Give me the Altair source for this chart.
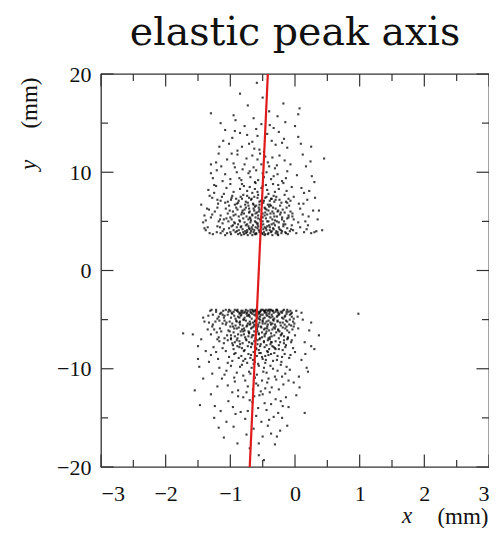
import altair as alt
import pandas as pd

# ---------------- data ----------------
upper_points = [
    (-0.62,3.7),(-0.41,3.8),(-0.88,3.7),(-0.15,3.9),(-1.05,3.8),(-0.53,4.0),(-0.27,3.7),(-0.74,3.9),(0.02,3.8),(-1.21,3.9),
    (-0.47,3.6),(-0.95,4.1),(-0.33,4.2),(-0.69,3.8),(-0.08,4.0),(-1.32,3.8),(-0.58,4.3),(-0.21,3.8),(-0.81,4.2),(0.14,3.9),
    (-0.44,4.1),(-1.12,4.0),(-0.66,3.6),(-0.37,3.9),(-0.99,3.7),(-0.12,4.3),(-0.77,4.0),(-0.51,3.8),(0.25,3.8),(-1.38,4.1),
    (-0.29,4.0),(-0.85,3.8),(-0.57,4.5),(-0.03,4.1),(-1.16,4.4),(-0.71,4.3),(-0.39,4.4),(-0.92,3.9),(-0.18,4.5),(-0.63,4.1),
    (-1.02,4.3),(-0.46,3.7),(0.08,4.4),(-0.79,3.7),(-0.24,4.2),(-1.27,3.7),(-0.55,3.9),(-0.35,3.6),(-0.9,4.4),(0.33,4.0),
    (-0.67,4.4),(-0.11,3.7),(-1.08,3.6),(-0.49,4.2),(-0.83,4.5),(-0.31,4.6),(-0.6,3.7),(-0.96,4.6),(-0.2,4.0),(-0.73,3.6),
    (-1.2,4.5),(-0.43,4.5),(0.18,4.2),(-0.87,4.1),(-0.05,4.6),(-0.65,4.6),(-1.35,4.4),(-0.26,3.6),(-0.52,4.4),(-0.76,4.6),
    (-0.58,4.8),(-0.31,5.1),(-0.94,4.9),(-0.12,5.3),(-1.18,5.0),(-0.47,5.6),(-0.72,5.2),(0.05,4.9),(-1.3,5.4),(-0.36,4.7),
    (-0.83,5.7),(-0.22,5.9),(-0.61,5.4),(-1.04,5.8),(-0.41,6.1),(0.21,5.5),(-0.69,4.9),(-0.15,4.7),(-0.98,5.2),(-0.53,5.0),
    (-1.24,6.0),(-0.28,5.5),(-0.78,6.2),(-0.07,6.0),(-0.5,5.8),(-1.12,4.8),(-0.87,5.5),(-0.34,6.4),(0.12,5.7),(-0.64,6.3),
    (-1.38,5.1),(-0.45,5.3),(-0.19,6.2),(-0.91,6.4),(-0.56,6.0),(-0.74,4.7),(-0.02,5.2),(-1.07,6.3),(-0.38,5.8),(-0.66,5.7),
    (-0.25,4.9),(-0.85,5.0),(0.28,6.1),(-1.15,5.6),(-0.49,4.7),(-0.62,6.5),(-0.1,5.6),(-0.96,6.0),(-0.3,6.3),(-0.71,5.9),
    (-1.28,5.7),(-0.43,5.0),(-0.8,5.3),(-0.17,5.0),(-0.55,6.2),(-1.0,5.4),(0.08,6.3),(-0.35,5.2),(-0.68,5.1),(-0.89,6.2),
    (-0.23,5.7),(-1.2,6.4),(-0.52,5.5),(-0.76,6.4),(-0.04,5.5),(-0.4,6.5),(-1.1,5.2),(-0.6,4.9),(-0.27,6.0),(-0.93,4.8),
    (0.16,5.0),(-0.46,6.3),(-0.82,5.9),(-0.13,6.4),(-1.33,6.2),(-0.57,5.3),(-0.7,6.0),(-0.33,4.8),(-1.03,5.0),(-0.2,5.4),
    (-0.55,6.7),(-0.32,7.0),(-0.88,6.9),(-0.1,7.3),(-1.15,7.1),(-0.63,7.5),(-0.41,7.8),(-0.97,7.6),(0.06,6.8),(-0.74,8.1),
    (-0.25,8.3),(-1.25,7.9),(-0.5,8.6),(-0.82,8.8),(-0.16,7.7),(-0.68,7.2),(-1.06,8.4),(-0.37,6.6),(0.14,7.9),(-0.58,8.0),
    (-0.91,7.3),(-0.29,7.5),(-1.19,6.8),(-0.46,7.4),(-0.77,6.7),(-0.05,8.5),(-0.61,8.9),(-1.02,6.6),(-0.34,8.8),(-0.85,8.3),
    (-0.21,6.9),(-0.53,7.1),(-1.28,7.4),(-0.7,8.5),(-0.43,8.2),(0.19,7.2),(-0.95,8.0),(-0.13,8.1),(-0.6,6.6),(-1.1,7.8),
    (-0.39,7.1),(-0.8,7.7),(-0.26,8.7),(-0.66,7.9),(-1.0,8.8),(-0.49,6.9),(-0.02,7.5),(-0.87,7.1),(-0.31,8.0),(-1.22,8.6),
    (-0.57,7.7),(-0.73,6.9),(-0.18,8.9),(-0.45,8.7),(-0.93,6.7),(-0.09,6.6),(-0.62,8.3),(-1.13,7.5),(-0.36,7.3),(-0.79,8.6),
    (-0.52,8.4),(-0.24,7.2),(-0.99,7.2),(0.1,8.4),(-0.65,6.8),(-1.34,8.2),(-0.42,6.7),(-0.84,7.5),(-0.14,7.0),(-0.71,7.4),
    (-0.57,9.2),(-0.33,9.6),(-0.86,9.4),(-0.12,10.1),(-1.08,9.8),(-0.64,10.5),(-0.42,11.0),(-0.95,10.9),(-0.2,9.1),(-0.75,11.4),
    (-0.5,9.9),(-1.14,10.6),(-0.28,10.7),(-0.69,9.5),(0.03,9.7),(-0.89,11.8),(-0.46,11.6),(-0.6,10.2),(-1.0,9.3),(-0.37,9.3),
    (-0.81,10.3),(-0.16,11.2),(-0.54,11.9),(-0.72,9.9),(-1.05,11.3),(-0.31,10.4),(-0.62,9.0),(-0.9,10.0),(-0.07,10.8),(-0.44,10.0),
    (-0.78,10.8),(-0.24,11.7),(-0.58,11.3),(-1.12,9.1),(-0.35,11.5),(-0.66,11.7),(-0.98,11.9),(-0.48,9.5),(-0.14,9.4),(-0.83,9.2),
    (-0.4,10.6),(-0.7,10.1),(-0.52,10.8),(-0.27,9.8),(-0.93,10.5),
    (-0.55,12.3),(-0.3,12.8),(-0.82,12.6),(-0.17,13.4),(-0.66,13.1),(-0.43,13.9),(-0.97,13.5),(-0.6,14.4),(-0.25,14.1),(-0.78,14.7),
    (-0.48,12.1),(-0.89,12.2),(-0.36,13.2),(-0.71,12.9),(-0.12,12.5),(-0.58,13.7),(-0.93,14.2),(-0.39,14.8),(-0.2,13.0),(-0.74,13.8),
    (-0.52,14.9),(-1.02,12.9),(-0.63,12.4),(-0.33,14.5),(-0.85,14.0),
    (-0.59,19.1),(-0.85,18.0),(-1.3,16.0),(-0.18,17.0),(0.07,16.5),(-0.64,15.5),(-0.4,16.2),(-0.92,15.3),(-0.5,17.6),(-0.27,15.7),(-0.73,16.8),
    (0.45,11.4),(0.37,6.1),(-1.4,4.3),(0.3,9.0),(-1.45,6.7),(0.42,4.1),(-1.3,10.8),(0.25,12.6),
]

upper_core = [
    (-0.6,3.8),(-0.36,4.0),(-0.8,3.9),(-0.22,4.1),(-1.0,3.9),(-0.5,3.7),(-0.7,4.2),(-0.3,3.8),(-0.9,4.0),(-0.45,4.3),
    (-0.14,3.8),(-1.1,4.2),(-0.64,3.9),(-0.4,4.6),(-0.84,4.4),(-0.06,4.2),(-0.56,4.1),(-0.76,3.8),(-0.25,4.4),(-0.98,4.5),
    (-0.48,3.9),(-0.68,4.0),(-0.34,4.3),(-1.15,3.8),(-0.58,4.7),(-0.88,4.7),(-0.18,4.7),(-0.42,3.7),(-0.72,4.5),(-0.52,4.6),
    (-0.62,5.0),(-0.38,5.4),(-0.86,5.1),(-0.2,5.2),(-1.06,5.3),(-0.54,5.2),(-0.75,5.5),(-0.28,5.0),(-0.95,5.6),(-0.46,5.9),
    (-0.1,5.4),(-1.16,5.2),(-0.66,5.6),(-0.43,5.7),(-0.81,6.1),(-0.04,5.8),(-0.59,5.9),(-0.78,4.9),(-0.32,5.5),(-1.01,6.1),
    (-0.5,5.4),(-0.7,5.4),(-0.26,6.1),(-0.92,5.7),(-0.56,6.4),(-0.84,6.5),(-0.16,5.9),(-0.44,6.2),(-0.72,6.6),(-0.35,6.0),
    (-0.63,6.1),(-0.39,6.7),(-0.9,6.8),(-0.23,6.6),(-1.08,6.9),(-0.51,6.8),(-0.76,7.0),(-0.3,7.2),(-0.98,7.4),(-0.48,7.1),
    (-0.12,6.9),(-1.2,7.2),(-0.67,7.3),(-0.44,7.5),(-0.82,7.3),(-0.07,7.1),(-0.58,7.4),(-0.74,7.6),(-0.33,7.6),(-1.04,7.0),
    (-0.54,4.0),(-0.47,4.4),(-0.66,4.2),(-0.39,4.1),(-0.74,4.1),(-0.27,3.9),(-0.83,3.6),(-0.61,4.4),(-0.5,5.0),(-0.57,5.6),
    (-0.41,5.0),(-0.69,5.3),(-0.33,5.8),(-0.79,5.8),(-0.61,5.8),(-0.47,6.4),(-0.64,6.7),(-0.37,7.3),(-0.55,7.0),(-0.71,6.3),
]

upper_edge = [
    (-1.32,7.6),(0.22,8.1),(-1.27,9.4),(0.31,7.4),(-1.21,10.2),(0.17,10.6),(-1.18,11.9),(0.12,11.8),(-1.36,6.3),(0.35,5.2),
    (-1.11,13.2),(0.05,13.6),(-1.25,8.7),(0.26,9.6),(-1.4,5.6),(0.2,4.6),(-1.17,12.6),(0.0,14.7),(-1.08,14.3),(0.13,6.8),
    (-1.3,9.9),(0.24,11.1),(-1.22,11.0),(0.09,12.9),(-1.42,4.9),(0.3,3.9),(-0.95,15.8),(-0.15,15.1),(-1.15,15.0),(0.05,15.9),
]

lower_points = [
    (-0.62,-4.1),(-0.41,-4.0),(-0.88,-4.2),(-0.19,-4.1),(-1.07,-4.0),(-0.55,-4.3),(-0.3,-4.2),(-0.76,-4.0),(-0.05,-4.3),(-1.22,-4.2),
    (-0.48,-4.1),(-0.97,-4.4),(-0.36,-4.5),(-0.69,-4.2),(-0.12,-4.0),(-1.31,-4.1),(-0.58,-4.6),(-0.24,-4.4),(-0.83,-4.5),(0.02,-4.1),
    (-0.44,-4.3),(-1.14,-4.3),(-0.66,-4.0),(-0.39,-4.2),(-1.0,-4.1),(-0.15,-4.6),(-0.79,-4.3),(-0.52,-4.0),(-0.28,-4.7),(-1.27,-4.5),
    (-0.6,-4.4),(-0.9,-4.1),(-0.47,-4.8),(-0.08,-4.5),(-1.18,-4.7),(-0.72,-4.6),(-0.34,-4.1),(-0.94,-4.6),(-0.2,-4.8),(-0.64,-4.2),
    (-1.04,-4.5),(-0.45,-4.0),(0.04,-4.7),(-0.81,-4.1),(-0.26,-4.3),(-1.29,-4.0),(-0.57,-4.2),(-0.37,-4.0),(-0.86,-4.8),(-0.1,-4.2),
    (-0.7,-4.7),(-0.17,-4.0),(-1.11,-4.1),(-0.5,-4.5),(-0.85,-4.3),(-0.32,-4.9),(-0.61,-4.0),(-0.99,-4.8),(-0.22,-4.2),(-0.75,-4.4),
    (-1.2,-4.9),(-0.43,-4.6),(-0.02,-4.9),(-0.89,-4.0),(-0.54,-4.7),(-0.67,-4.9),(-1.34,-4.6),(-0.29,-4.0),(-0.53,-4.1),(-0.78,-4.8),
    (-0.4,-4.4),(-0.95,-4.2),(-0.13,-4.4),(-0.63,-4.5),(-1.09,-4.6),(-0.35,-4.7),(-0.73,-4.1),(-0.27,-4.6),(-0.56,-4.9),(-0.92,-4.9),
    (-0.46,-4.2),(-1.16,-4.4),(-0.07,-4.1),(-0.68,-4.3),(-0.38,-4.8),(-0.84,-4.6),(-0.59,-4.0),(-0.18,-4.9),(-1.02,-4.0),(-0.49,-4.9),
    (-0.6,-5.1),(-0.38,-5.3),(-0.9,-5.2),(-0.16,-5.5),(-1.12,-5.4),(-0.52,-5.8),(-0.74,-5.6),(-0.03,-5.2),(-1.28,-5.7),(-0.33,-5.1),
    (-0.82,-6.0),(-0.24,-6.2),(-0.63,-5.5),(-1.03,-6.1),(-0.45,-6.4),(0.05,-5.9),(-0.7,-5.2),(-0.14,-5.1),(-0.97,-5.4),(-0.55,-5.3),
    (-1.21,-6.3),(-0.3,-5.7),(-0.79,-6.5),(-0.09,-6.3),(-0.48,-6.0),(-1.09,-5.1),(-0.87,-5.8),(-0.36,-6.7),(0.0,-6.6),(-0.66,-6.6),
    (-1.33,-5.3),(-0.42,-5.5),(-0.21,-6.5),(-0.93,-6.7),(-0.58,-6.2),(-0.76,-5.1),(-0.06,-5.6),(-1.05,-6.6),(-0.4,-6.1),(-0.68,-5.9),
    (-0.27,-5.2),(-0.86,-5.3),(-0.11,-6.8),(-1.16,-5.9),(-0.5,-5.1),(-0.61,-6.9),(-0.19,-5.8),(-0.95,-6.3),(-0.32,-6.6),(-0.72,-6.2),
    (-1.25,-6.0),(-0.44,-5.2),(-0.81,-5.6),(-0.23,-5.3),(-0.56,-6.5),(-1.0,-5.7),(-0.04,-6.0),(-0.35,-5.4),(-0.65,-5.3),(-0.88,-6.5),
    (-0.26,-6.0),(-1.18,-6.8),(-0.53,-5.7),(-0.77,-6.8),(-0.13,-5.7),(-0.41,-6.9),(-1.07,-5.5),(-0.62,-5.1),(-0.29,-6.3),(-0.91,-5.1),
    (-0.01,-5.4),(-0.47,-6.7),(-0.84,-6.2),(-0.17,-6.7),(-1.3,-6.5),(-0.57,-5.5),(-0.71,-6.3),(-0.34,-5.0),(-1.01,-5.2),(-0.22,-5.6),
    (-0.59,-6.0),(-0.8,-5.0),(-0.43,-5.9),(-0.99,-6.9),(-0.12,-6.1),(-0.67,-6.8),(-0.37,-6.4),(-1.14,-6.2),(-0.51,-6.3),(-0.85,-5.5),
    (-0.25,-6.9),(-0.64,-5.7),(-0.46,-5.4),(-0.94,-5.9),(-0.08,-5.0),(-0.73,-5.4),(-1.23,-5.2),(-0.31,-5.9),(-0.54,-6.9),(-0.78,-6.1),
    (-0.58,-7.1),(-0.36,-7.3),(-0.86,-7.2),(-0.14,-7.6),(-1.1,-7.4),(-0.6,-7.9),(-0.43,-8.2),(-0.95,-8.0),(-0.05,-7.1),(-0.72,-8.5),
    (-0.27,-8.7),(-1.22,-8.3),(-0.5,-9.0),(-0.8,-9.2),(-0.19,-8.1),(-0.66,-7.5),(-1.02,-8.8),(-0.39,-7.0),(0.0,-8.3),(-0.55,-8.4),
    (-0.89,-7.7),(-0.31,-7.9),(-1.17,-7.2),(-0.47,-7.8),(-0.75,-7.1),(-0.09,-8.9),(-0.62,-9.3),(-0.99,-7.0),(-0.34,-9.2),(-0.83,-8.7),
    (-0.23,-7.3),(-0.53,-7.5),(-1.26,-7.8),(-0.69,-8.9),(-0.41,-8.6),(-0.92,-8.4),(-0.16,-8.5),(-0.61,-7.0),(-1.07,-8.2),(-0.38,-7.5),
    (-0.78,-8.1),(-0.28,-9.1),(-0.64,-8.3),(-0.97,-9.2),(-0.48,-7.3),(-0.03,-7.9),(-0.85,-7.5),(-0.32,-8.4),(-1.19,-9.0),(-0.56,-8.1),
    (-0.71,-7.3),(-0.21,-9.3),(-0.45,-9.1),(-0.9,-7.1),(-0.12,-7.0),(-0.59,-8.7),(-1.12,-7.9),(-0.35,-7.7),(-0.77,-9.0),(-0.51,-8.8),
    (-0.25,-7.6),(-0.96,-7.6),(-0.07,-8.6),(-0.63,-7.2),(-1.3,-8.6),(-0.42,-7.1),(-0.82,-7.9),(-0.17,-7.4),(-0.68,-7.8),(-0.46,-9.4),
    (-1.04,-9.4),(-0.3,-8.0),(-0.74,-9.4),(-0.54,-7.7),(-0.87,-8.9),(-0.2,-8.8),(-0.65,-9.1),(-0.4,-8.0),(-0.93,-7.3),(-0.57,-9.5),
    (-0.56,-9.7),(-0.34,-10.0),(-0.85,-9.8),(-0.15,-10.5),(-1.06,-10.2),(-0.62,-10.9),(-0.43,-11.4),(-0.93,-11.3),(-0.22,-9.6),(-0.73,-11.8),
    (-0.49,-10.3),(-1.13,-11.0),(-0.29,-11.1),(-0.67,-9.9),(-0.08,-10.1),(-0.88,-12.2),(-0.46,-12.0),(-0.59,-10.6),(-0.99,-9.7),(-0.38,-9.7),
    (-0.8,-10.7),(-0.18,-11.6),(-0.53,-12.3),(-0.71,-10.3),(-1.04,-11.7),(-0.31,-10.8),(-0.64,-9.5),(-0.9,-10.4),(-0.1,-11.2),(-0.44,-10.4),
    (-0.77,-11.2),(-0.25,-12.1),(-0.57,-11.7),(-1.17,-9.9),(-0.36,-11.9),(-0.65,-12.1),(-0.97,-12.4),(-0.48,-9.9),(-0.13,-9.8),(-0.82,-9.6),
    (-0.41,-11.0),(-0.69,-10.5),(-0.51,-11.2),(-0.27,-10.2),(-0.94,-10.9),(-0.6,-11.5),(-0.2,-10.8),(-0.75,-12.4),(-1.09,-10.6),(-0.39,-12.4),
    (-0.55,-12.7),(-0.3,-13.1),(-0.8,-12.9),(-0.19,-13.8),(-0.66,-13.4),(-0.44,-14.2),(-0.96,-13.9),(-0.6,-14.8),(-0.26,-14.5),(-0.77,-15.1),
    (-0.5,-12.6),(-0.88,-12.8),(-0.37,-13.6),(-0.7,-13.2),(-0.14,-12.9),(-0.57,-14.0),(-0.92,-14.6),(-0.4,-15.2),(-0.22,-13.3),(-0.73,-14.3),
    (-0.52,-15.4),(-1.03,-13.3),(-0.63,-12.8),(-0.33,-14.9),(-0.84,-14.4),(-0.47,-13.5),
    (-0.31,-17.7),(-0.56,-17.6),(-0.89,-17.6),(-0.64,-16.1),(-0.42,-15.8),(-0.75,-16.7),(-0.23,-16.3),(-0.95,-15.9),(-0.5,-16.9),
    (-0.56,-18.8),(-0.48,-19.3),(-0.37,-16.6),(-0.7,-18.1),(-1.1,-17.0),
    (-1.73,-6.4),(-1.58,-6.5),(-1.55,-12.2),(-1.47,-13.7),(0.37,-6.6),(0.25,-5.3),(0.18,-9.9),(0.07,-11.9),(0.98,-4.4),
    (-1.5,-9.0),(0.3,-8.0),(-1.42,-4.8),(0.15,-14.5),(-1.25,-15.0),
]

lower_core = [
    (-0.6,-4.2),(-0.35,-4.1),(-0.82,-4.3),(-0.2,-4.3),(-1.03,-4.2),(-0.5,-4.0),(-0.71,-4.5),(-0.28,-4.0),(-0.93,-4.0),(-0.44,-4.5),
    (-0.13,-4.2),(-1.12,-4.5),(-0.65,-4.1),(-0.4,-4.7),(-0.86,-4.4),(-0.06,-4.4),(-0.56,-4.4),(-0.77,-4.2),(-0.25,-4.5),(-0.98,-4.3),
    (-0.47,-4.1),(-0.69,-4.0),(-0.33,-4.3),(-1.22,-4.0),(-0.58,-4.8),(-0.88,-4.7),(-0.16,-4.7),(-0.42,-4.1),(-0.74,-4.6),(-0.53,-4.5),
    (-0.62,-5.2),(-0.37,-5.5),(-0.85,-5.2),(-0.19,-5.3),(-1.06,-5.3),(-0.54,-5.0),(-0.75,-5.7),(-0.27,-5.1),(-0.96,-5.7),(-0.46,-5.9),
    (-0.09,-5.5),(-1.17,-5.1),(-0.66,-5.8),(-0.43,-5.7),(-0.8,-6.2),(-0.02,-5.7),(-0.59,-5.9),(-0.79,-5.0),(-0.31,-5.5),(-1.01,-6.2),
    (-0.5,-5.4),(-0.7,-5.5),(-0.26,-6.1),(-0.92,-5.6),(-0.56,-6.4),(-0.83,-6.6),(-0.15,-5.9),(-0.44,-6.2),(-0.72,-6.7),(-0.35,-6.0),
    (-0.63,-6.2),(-0.39,-6.8),(-0.89,-6.9),(-0.22,-6.6),(-1.09,-6.9),(-0.51,-6.8),(-0.76,-7.0),(-0.3,-7.2),(-0.97,-7.4),(-0.48,-7.2),
    (-0.11,-6.9),(-1.2,-7.0),(-0.67,-7.4),(-0.44,-7.6),(-0.81,-7.4),(-0.06,-7.3),(-0.58,-7.5),(-0.73,-7.7),(-0.33,-7.8),(-1.04,-7.1),
    (-0.6,-8.0),(-0.42,-8.3),(-0.79,-8.2),(-0.25,-8.0),(-0.94,-8.5),(-0.53,-8.4),(-0.68,-8.6),(-0.37,-8.5),(-0.86,-7.8),(-0.15,-7.8),
    (-0.54,-4.2),(-0.47,-4.3),(-0.66,-4.4),(-0.39,-4.0),(-0.74,-4.3),(-0.27,-4.1),(-0.83,-4.1),(-0.61,-4.6),(-0.5,-5.2),(-0.57,-5.7),
    (-0.41,-5.1),(-0.69,-5.4),(-0.33,-5.8),(-0.79,-5.9),(-0.61,-5.6),(-0.47,-6.5),(-0.64,-6.6),(-0.37,-7.3),(-0.55,-7.0),(-0.71,-6.4),
    (-1.1,-4.8),(-0.9,-5.9),(-0.2,-6.4),(-0.05,-4.7),(-1.27,-5.5),(-0.12,-5.2),(-0.99,-6.6),(-0.17,-7.1),(-0.62,-7.8),(-0.46,-8.7),
]

lower_edge = [
    (-1.48,-9.8),(0.2,-10.3),(-1.38,-8.2),(0.15,-7.3),(-1.42,-11.0),(0.1,-9.1),(-1.3,-12.6),(0.02,-12.7),(-1.45,-7.0),(0.22,-6.1),
    (-1.35,-6.0),(0.12,-5.0),(-1.24,-13.8),(-0.1,-13.9),(-1.28,-10.5),(0.06,-10.8),(-1.4,-5.2),(0.1,-4.3),(-1.2,-11.8),(-0.02,-11.4),
    (-1.33,-9.3),(0.25,-7.7),(-1.15,-14.3),(-0.2,-15.0),(-1.5,-7.7),(0.16,-8.5),(-1.18,-16.0),(-0.28,-16.9),(-1.06,-15.4),(-0.12,-15.8),
]

axis_line_x = [-0.42, -0.70]
axis_line_y = [20, -20]

x_major = [-3, -2, -1, 0, 1, 2, 3]
x_minor = [-2.5, -1.5, -0.5, 0.5, 1.5, 2.5]
y_major = [-20, -10, 0, 10, 20]
y_minor = [-15, -5, 5, 15]

title_text = "elastic peak axis"

# ---------------- chart ----------------
# whole svg kept within 481 x 520 so the page never overflows
PAD_L, PAD_T, PAD_R, PAD_B = 93, 66, 0, 61
W = 388
H = 393
FRAME = "#333333"
LABEL_FONT = "Liberation Serif"

all_points = upper_points + upper_core + upper_edge + lower_points + lower_core + lower_edge
pts = pd.DataFrame(all_points, columns=["x", "y"])
line_df = pd.DataFrame({"x": axis_line_x, "y": axis_line_y})

xs = alt.Scale(domain=[-3, 3], nice=False, zero=False)
ys = alt.Scale(domain=[-20, 20], nice=False, zero=False)

x_axis = alt.Axis(values=x_major, format="d", title="(mm)", labelPadding=26,
                  labelBaseline="middle", titleX=387, titleY=56, titleAlign="right",
                  titleBaseline="alphabetic")
y_axis = alt.Axis(values=y_major, format="d", title="(mm)", labelPadding=10,
                  labelBaseline="middle", titleX=-65, titleY=3, titleAngle=270,
                  titleAlign="right", titleBaseline="alphabetic")


def X(field):
    return alt.X(field, type="quantitative", scale=xs, axis=x_axis)


def Y(field):
    return alt.Y(field, type="quantitative", scale=ys, axis=y_axis)


points = alt.Chart(pts).mark_square(size=4.5, color="#000000", opacity=0.75).encode(
    x=X("x"), y=Y("y"),
)

red = alt.Chart(line_df).mark_line(color="#e01b1b", strokeWidth=2.2, clip=True).encode(
    x=X("x"), y=Y("y"), order=alt.Order("y:Q"),
)


def xticks(vals, length):
    df = pd.DataFrame({"x": vals})
    base = alt.Chart(df).mark_rule(color=FRAME, strokeWidth=1.2)
    bottom = base.encode(x=X("x"), y=alt.value(H), y2=alt.value(H - length))
    top = base.encode(x=X("x"), y=alt.value(0), y2=alt.value(length))
    return [bottom, top]


def yticks(vals, length):
    df = pd.DataFrame({"y": vals})
    base = alt.Chart(df).mark_rule(color=FRAME, strokeWidth=1.2)
    left = base.encode(y=Y("y"), x=alt.value(0), x2=alt.value(length))
    right = base.encode(y=Y("y"), x=alt.value(W), x2=alt.value(W - length))
    return [left, right]


tick_layers = xticks(x_major, 12.5) + xticks(x_minor, 7) + yticks(y_major, 12.5) + yticks(y_minor, 7)

lab_df = pd.DataFrame({"t": ["x"]})
x_italic = alt.Chart(lab_df).mark_text(
    font=LABEL_FONT, fontStyle="italic", fontSize=23, align="left", baseline="alphabetic", color="#111"
).encode(text="t:N", x=alt.value(301), y=alt.value(H + 56))

ylab_df = pd.DataFrame({"t": ["y"]})
y_italic = alt.Chart(ylab_df).mark_text(
    font=LABEL_FONT, fontStyle="italic", fontSize=23, align="left", baseline="alphabetic",
    angle=270, color="#111"
).encode(text="t:N", x=alt.value(-65), y=alt.value(96))

chart = alt.layer(points, red, *tick_layers, x_italic, y_italic).properties(
    width=W,
    height=H,
    title=alt.TitleParams(title_text, font="DejaVu Serif", fontSize=39.5, fontWeight="normal",
                          color="#111", anchor="middle", baseline="alphabetic", offset=28, dy=49),
    autosize=alt.AutoSizeParams(type="none"),
    padding={"left": PAD_L, "top": PAD_T, "right": PAD_R, "bottom": PAD_B},
).configure_view(
    stroke=FRAME, strokeWidth=1.3
).configure_axis(
    domain=False, ticks=False, tickSize=0, grid=False,
    labelFont=LABEL_FONT, labelFontSize=22, labelColor="#111",
    titleFont=LABEL_FONT, titleFontSize=23, titleFontWeight="normal", titleColor="#111",
)

chart.save("out.html", embed_options={"renderer": "svg", "actions": False})
